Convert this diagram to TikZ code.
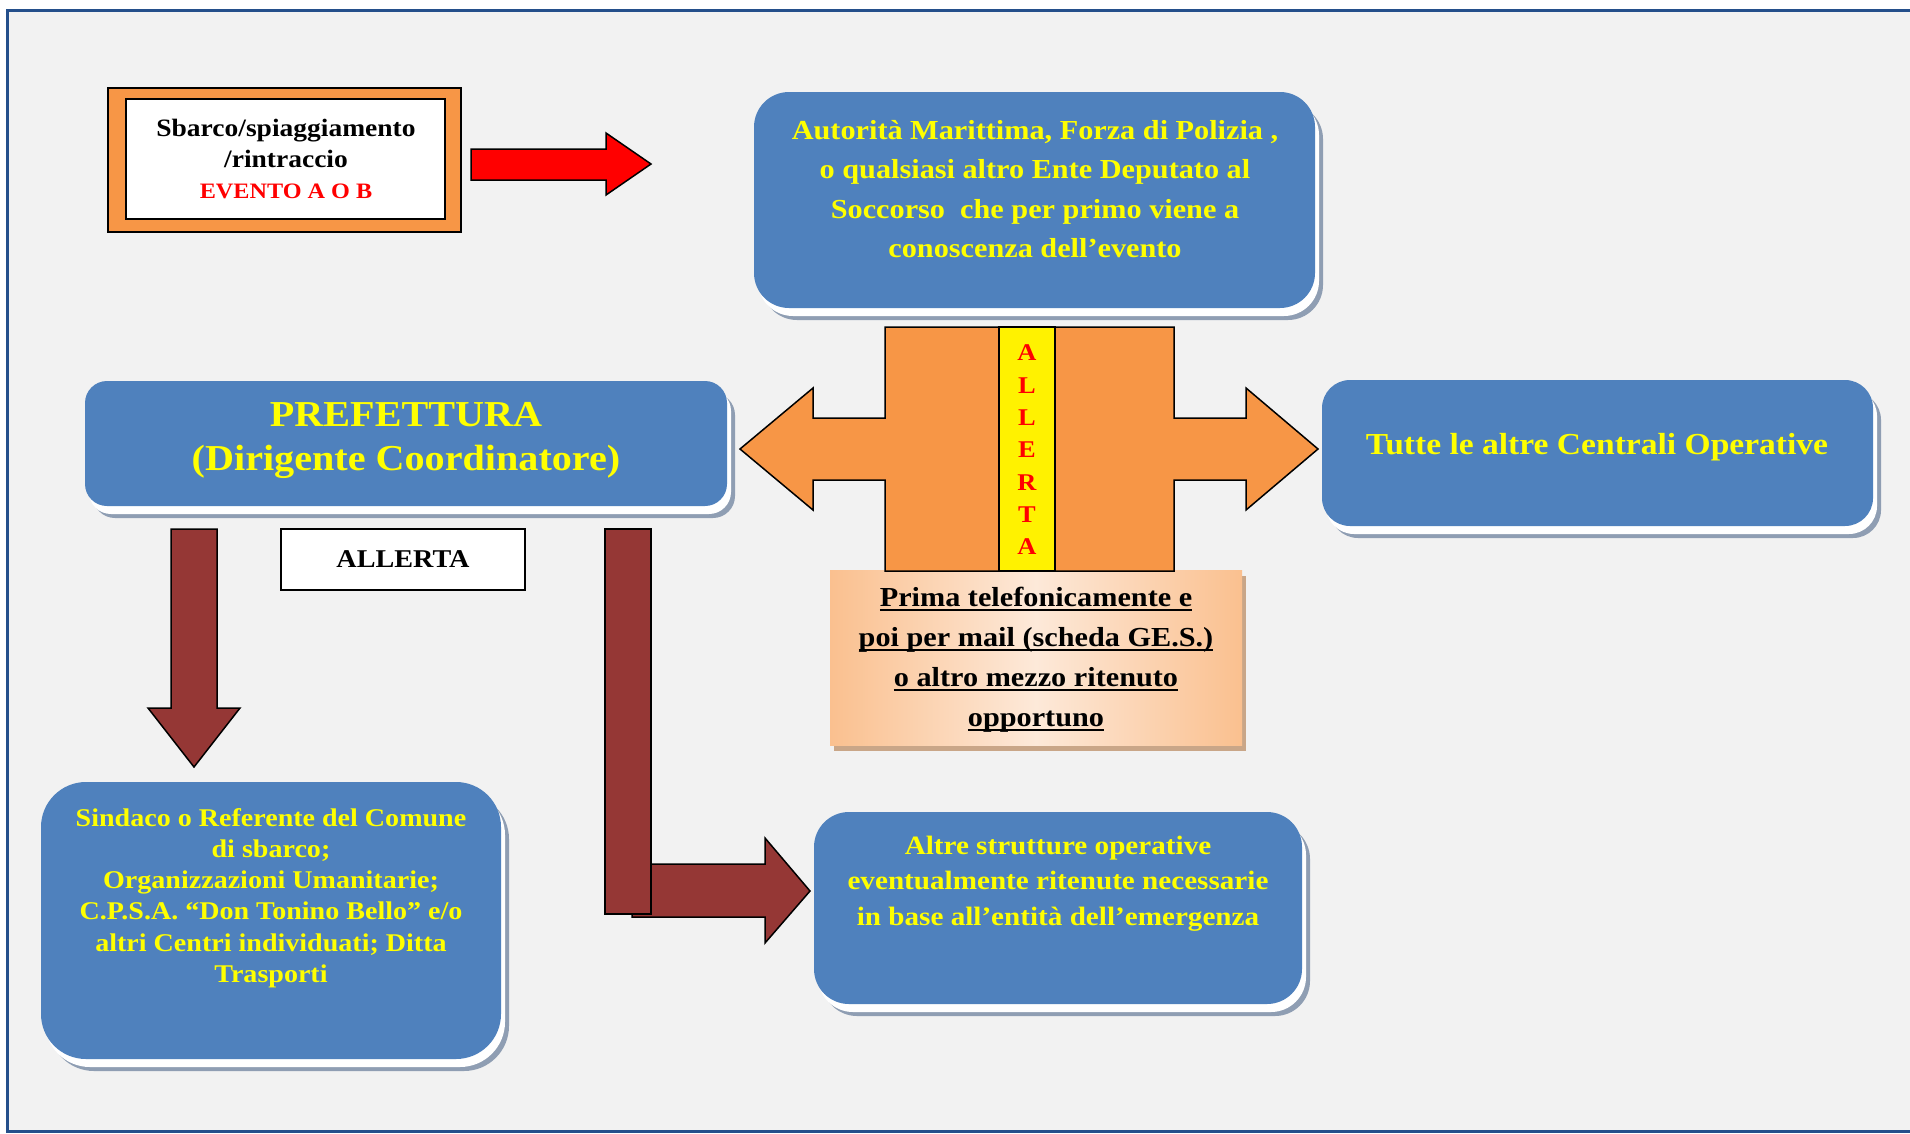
\documentclass[tikz,border=0pt]{standalone}
\usepackage{fontspec}
\setmainfont{Liberation Serif}[FakeStretch=1.1]
\usepackage{tikz}
\usetikzlibrary{shadows}
\usepackage{color}

\definecolor{boxblue}{RGB}{79,129,189}
\definecolor{txtyellow}{RGB}{255,255,0}
\definecolor{arrowred}{RGB}{149,55,53}
\definecolor{orng}{RGB}{247,150,70}
\definecolor{bggray}{RGB}{242,242,242}
\definecolor{framebl}{RGB}{36,79,139}
\definecolor{shadowgr}{RGB}{143,158,179}
\definecolor{peachdk}{RGB}{250,192,143}
\definecolor{peachlt}{RGB}{253,233,217}
\definecolor{peachsh}{RGB}{201,166,136}

\newcommand{\setfs}[2]{\fontsize{#1}{#2}\selectfont\bfseries}
\newcommand{\undl}[1]{\setbox0\hbox{#1}\rlap{\rule[-4.5pt]{\wd0}{1.8pt}}\box0}

\begin{document}
\begin{tikzpicture}[x=1pt, y=-1pt,
		bluebox/.style={draw=none, fill=boxblue, rounded corners=#1, inner sep=0pt,
			general shadow={fill=shadowgr, shadow xshift=8pt, shadow yshift=-12pt},
			general shadow={fill=white, shadow xshift=4pt, shadow yshift=-8pt}},
		bluetxt/.style={text=txtyellow, align=center, inner sep=0pt},
		blocky/.style={draw=black, line width=1.5pt, line join=miter},
		vletter/.style={text=red, inner sep=0pt, font=\setfs{24}{24}}]
				\useasboundingbox (0,0) rectangle (1910,1133);
				\fill[white] (0,0) rectangle (1910,1133);
				\fill[bggray] (7,10) rectangle (1910,1131);
				\draw[framebl, line width=3pt] (1910,10) -- (7,10) -- (7,1131) -- (1910,1131);

				\node[draw=black, line width=1.5pt, fill=orng, minimum width=353pt, minimum height=144pt, inner sep=0pt] (evento) at (284.5,160) {};
				\node[draw=black, line width=2pt, fill=white, minimum width=319pt, minimum height=120pt, inner sep=0pt] (eventoin) at (285.5,159) {};
				\node[align=center, inner sep=0pt, font=\setfs{25}{31}] (eventot) at (286,159) {Sbarco/spiaggiamento\\/rintraccio\\{\color{red}\fontsize{22}{31}\selectfont EVENTO A O B}};
				\draw[blocky, fill=red] (471,149) -- (606,149) -- (606,133) -- (651,164) -- (606,195) -- (606,180) -- (471,180) -- cycle;

				\node[bluebox=35pt, minimum width=561pt, minimum height=216pt] (autorita) at (1034.5,200) {};
				\node[bluetxt, font=\setfs{27.5}{39.5}] (autoritat) at (1035,189) {Autorità Marittima, Forza di Polizia ,\\o qualsiasi altro Ente Deputato al\\Soccorso\ \ che per primo viene a\\conoscenza dell’evento};

				\node[draw=none, inner sep=0pt, minimum width=412pt, minimum height=175pt, left color=peachdk, right color=peachdk, middle color=peachlt,
					general shadow={fill=peachsh, shadow xshift=4pt, shadow yshift=-6pt}] (mezzo) at (1036,657.5) {};
				\node[align=center, inner sep=0pt, font=\setfs{27.5}{40}] (mezzot) at (1036,660) {\undl{Prima telefonicamente e}\\\undl{poi per mail (scheda GE.S.)}\\\undl{o altro mezzo ritenuto}\\\undl{opportuno}};

				\draw[blocky, fill=orng] (885,327) -- (1174,327) -- (1174,418) -- (1246,418) -- (1246,388) -- (1318,449) -- (1246,510) -- (1246,480) -- (1174,480) -- (1174,571)
					-- (885,571) -- (885,480) -- (813,480) -- (813,510) -- (740,449) -- (813,388) -- (813,418) -- (885,418) -- cycle;
				\draw[draw=black, line width=1.5pt, fill=yellow] (999,327) rectangle (1055,571);
				\foreach \ltr [count=\i from 0] in {A,L,L,E,R,T,A} {
					\node[vletter] (allerta\i) at (1027,353+32.3*\i) {\ltr};
				}

				\node[bluebox=22pt, minimum width=642pt, minimum height=125pt] (prefettura) at (406,443.5) {};
				\node[bluetxt, font=\setfs{36.5}{44}] (prefetturat) at (406,440) {PREFETTURA\\(Dirigente Coordinatore)};

				\node[bluebox=28pt, minimum width=551pt, minimum height=146pt] (centrali) at (1597.5,453) {};
				\node[bluetxt, font=\setfs{30.5}{36}] (centralit) at (1597,447) {Tutte le altre Centrali Operative};

				\node[draw=black, line width=1.5pt, fill=white, minimum width=244pt, minimum height=61pt, inner sep=0pt, font=\setfs{25.6}{30}] (allerta) at (403,559.5) {ALLERTA};

				\draw[blocky, fill=arrowred] (171,529) -- (217,529) -- (217,708) -- (240,708) -- (194,767) -- (148,708) -- (171,708) -- cycle;
				\draw[blocky, fill=arrowred] (632,864) -- (765,864) -- (765,838) -- (810,891) -- (765,943) -- (765,917) -- (632,917) -- cycle;
				\draw[blocky, fill=arrowred] (605,529) rectangle (651,914);

				\node[bluebox=45pt, minimum width=460pt, minimum height=277pt] (sindaco) at (271,920.5) {};
				\node[bluetxt, font=\setfs{25.5}{31.2}] (sindacot) at (271,898) {Sindaco o Referente del Comune\\di sbarco;\\Organizzazioni Umanitarie;\\C.P.S.A. “Don Tonino Bello” e/o\\altri Centri individuati; Ditta\\Trasporti};

				\node[bluebox=35pt, minimum width=488pt, minimum height=192pt] (strutture) at (1058,908) {};
				\node[bluetxt, font=\setfs{26.5}{35.5}] (strutturet) at (1058,883.5) {Altre strutture operative\\eventualmente ritenute necessarie\\in base all’entità dell’emergenza};
			\end{tikzpicture}
\end{document}
